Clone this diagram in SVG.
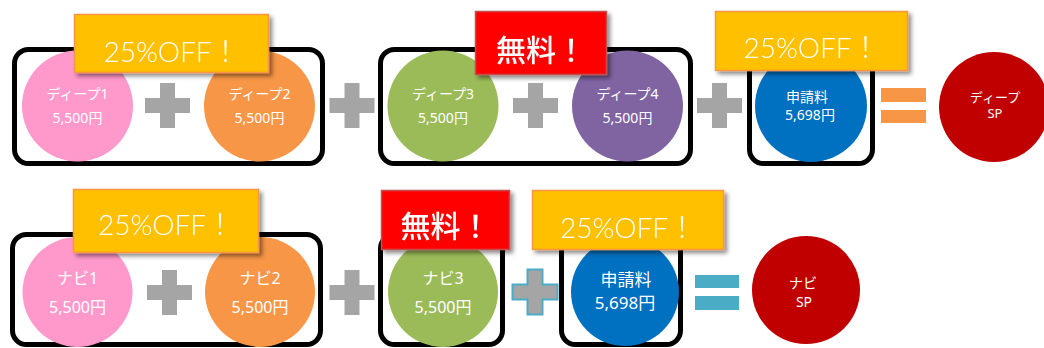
<svg xmlns="http://www.w3.org/2000/svg" width="1044" height="348" viewBox="0 0 1044 348">
<style>
.frame{fill:#fff;stroke:#000;stroke-width:5}
.t{fill:#fff;font-family:"Noto Sans","Noto Sans CJK JP",sans-serif;text-anchor:middle}
.off{fill:#FFC000;stroke:#F79646;stroke-width:1.5}
.free{fill:#FF0000;stroke:#C0504D;stroke-width:1.5}
.offt{fill:#fff;font-family:Lato,"Noto Sans CJK JP",sans-serif;font-weight:300;font-size:28px;text-anchor:middle}
.freet{fill:#fff;font-family:"Noto Sans CJK JP",sans-serif;font-weight:500;font-size:30px;text-anchor:middle}
.plus{fill:#A5A5A5}
</style>
<defs>
<filter id="sh" x="-10%" y="-20%" width="130%" height="160%">
<feDropShadow dx="3" dy="3" stdDeviation="2" flood-color="#000" flood-opacity="0.45"/>
</filter>
<path id="plusShape" d="M-7.5,-22.5h15v15h15v15h-15v15h-15v-15h-15v-15h15z"/>
</defs>

<g id="frames">
<rect class="frame" x="14.5" y="49.5" width="308" height="114" rx="14"/>
<rect class="frame" x="380.5" y="49.5" width="310" height="114" rx="14"/>
<rect class="frame" x="749.5" y="49.5" width="123" height="114" rx="14"/>
<rect class="frame" x="12.5" y="234.5" width="308" height="110" rx="14"/>
<rect class="frame" x="380.5" y="234.5" width="122" height="110" rx="14"/>
<rect class="frame" x="561.5" y="234.5" width="119" height="110" rx="14"/>
</g>

<g id="connectors">
<use href="#plusShape" class="plus" x="167.5" y="105.5"/>
<use href="#plusShape" class="plus" x="352" y="105.5"/>
<use href="#plusShape" class="plus" x="535.5" y="105.5"/>
<use href="#plusShape" class="plus" x="719.5" y="105.5"/>
<rect x="881" y="88" width="45" height="14" fill="#F79646"/>
<rect x="881" y="110" width="45" height="13" fill="#F79646"/>
<use href="#plusShape" class="plus" x="169.5" y="292.5"/>
<use href="#plusShape" class="plus" x="352" y="292.5"/>
<use href="#plusShape" class="plus" x="535" y="292" stroke="#4BACC6" stroke-width="2"/>
<rect x="695" y="275" width="44" height="13" fill="#4BACC6"/>
<rect x="695" y="296" width="44" height="14" fill="#4BACC6"/>
</g>

<g id="deep1"><circle cx="77.5" cy="106" r="55.5" fill="#FF99CC"/>
<text class="t" x="77.5" y="99" font-size="14">ディープ1</text><text class="t" x="77.5" y="123" font-size="14">5,500円</text></g>
<g id="deep2"><circle cx="259.5" cy="106" r="55.5" fill="#F79646"/>
<text class="t" x="259.5" y="99" font-size="14">ディープ2</text><text class="t" x="259.5" y="123" font-size="14">5,500円</text></g>
<g id="deep3"><circle cx="443" cy="106" r="55.5" fill="#9BBB59"/>
<text class="t" x="443" y="99" font-size="14">ディープ3</text><text class="t" x="443" y="123" font-size="14">5,500円</text></g>
<g id="deep4"><circle cx="627.5" cy="106" r="55.5" fill="#8064A2"/>
<text class="t" x="627.5" y="99" font-size="14">ディープ4</text><text class="t" x="627.5" y="123" font-size="14">5,500円</text></g>
<g id="fee1"><circle cx="811" cy="106" r="56" fill="#0070C0"/>
<text class="t" x="807" y="102" font-size="14">申請料</text><text class="t" x="810" y="120" font-size="14">5,698円</text></g>
<g id="deepSP"><circle cx="994" cy="107" r="55" fill="#C00000"/>
<text class="t" x="995" y="102" font-size="13">ディープ</text><text class="t" x="995" y="118" font-size="13">SP</text></g>

<g id="navi1"><circle cx="77.5" cy="292" r="55" fill="#FF99CC"/>
<text class="t" x="77.5" y="284" font-size="16">ナビ1</text><text class="t" x="77.5" y="313" font-size="16">5,500円</text></g>
<g id="navi2"><circle cx="260" cy="292" r="55" fill="#F79646"/>
<text class="t" x="260" y="284" font-size="16">ナビ2</text><text class="t" x="260" y="313" font-size="16">5,500円</text></g>
<g id="navi3"><circle cx="443" cy="292" r="55" fill="#9BBB59"/>
<text class="t" x="443" y="284" font-size="16">ナビ3</text><text class="t" x="443" y="313" font-size="16">5,500円</text></g>
<g id="fee2"><circle cx="625" cy="292" r="54" fill="#0070C0"/>
<text class="t" x="626" y="286" font-size="17">申請料</text><text class="t" x="625" y="309" font-size="17">5,698円</text></g>
<g id="naviSP"><circle cx="806" cy="290" r="54" fill="#C00000"/>
<text class="t" x="803" y="288" font-size="14">ナビ</text><text class="t" x="804" y="307" font-size="14">SP</text></g>

<g id="label1" filter="url(#sh)"><rect class="off" x="74.5" y="14.5" width="194" height="58"/>
<text class="offt" x="171.5" y="62">25%OFF！</text></g>
<g id="label2" filter="url(#sh)"><rect class="free" x="475.5" y="11.5" width="131" height="63"/>
<text class="freet" x="541" y="61">無料！</text></g>
<g id="label3" filter="url(#sh)"><rect class="off" x="715.5" y="11.5" width="192" height="59"/>
<text class="offt" x="811.5" y="58">25%OFF！</text></g>
<g id="label4" filter="url(#sh)"><rect class="off" x="73.5" y="189.5" width="185" height="63"/>
<text class="offt" x="166" y="235">25%OFF！</text></g>
<g id="label5" filter="url(#sh)"><rect class="free" x="381.5" y="190.5" width="128" height="59"/>
<text class="freet" x="445.5" y="237">無料！</text></g>
<g id="label6" filter="url(#sh)"><rect class="off" x="532.5" y="190.5" width="191" height="59"/>
<text class="offt" x="628" y="238">25%OFF！</text></g>
</svg>
